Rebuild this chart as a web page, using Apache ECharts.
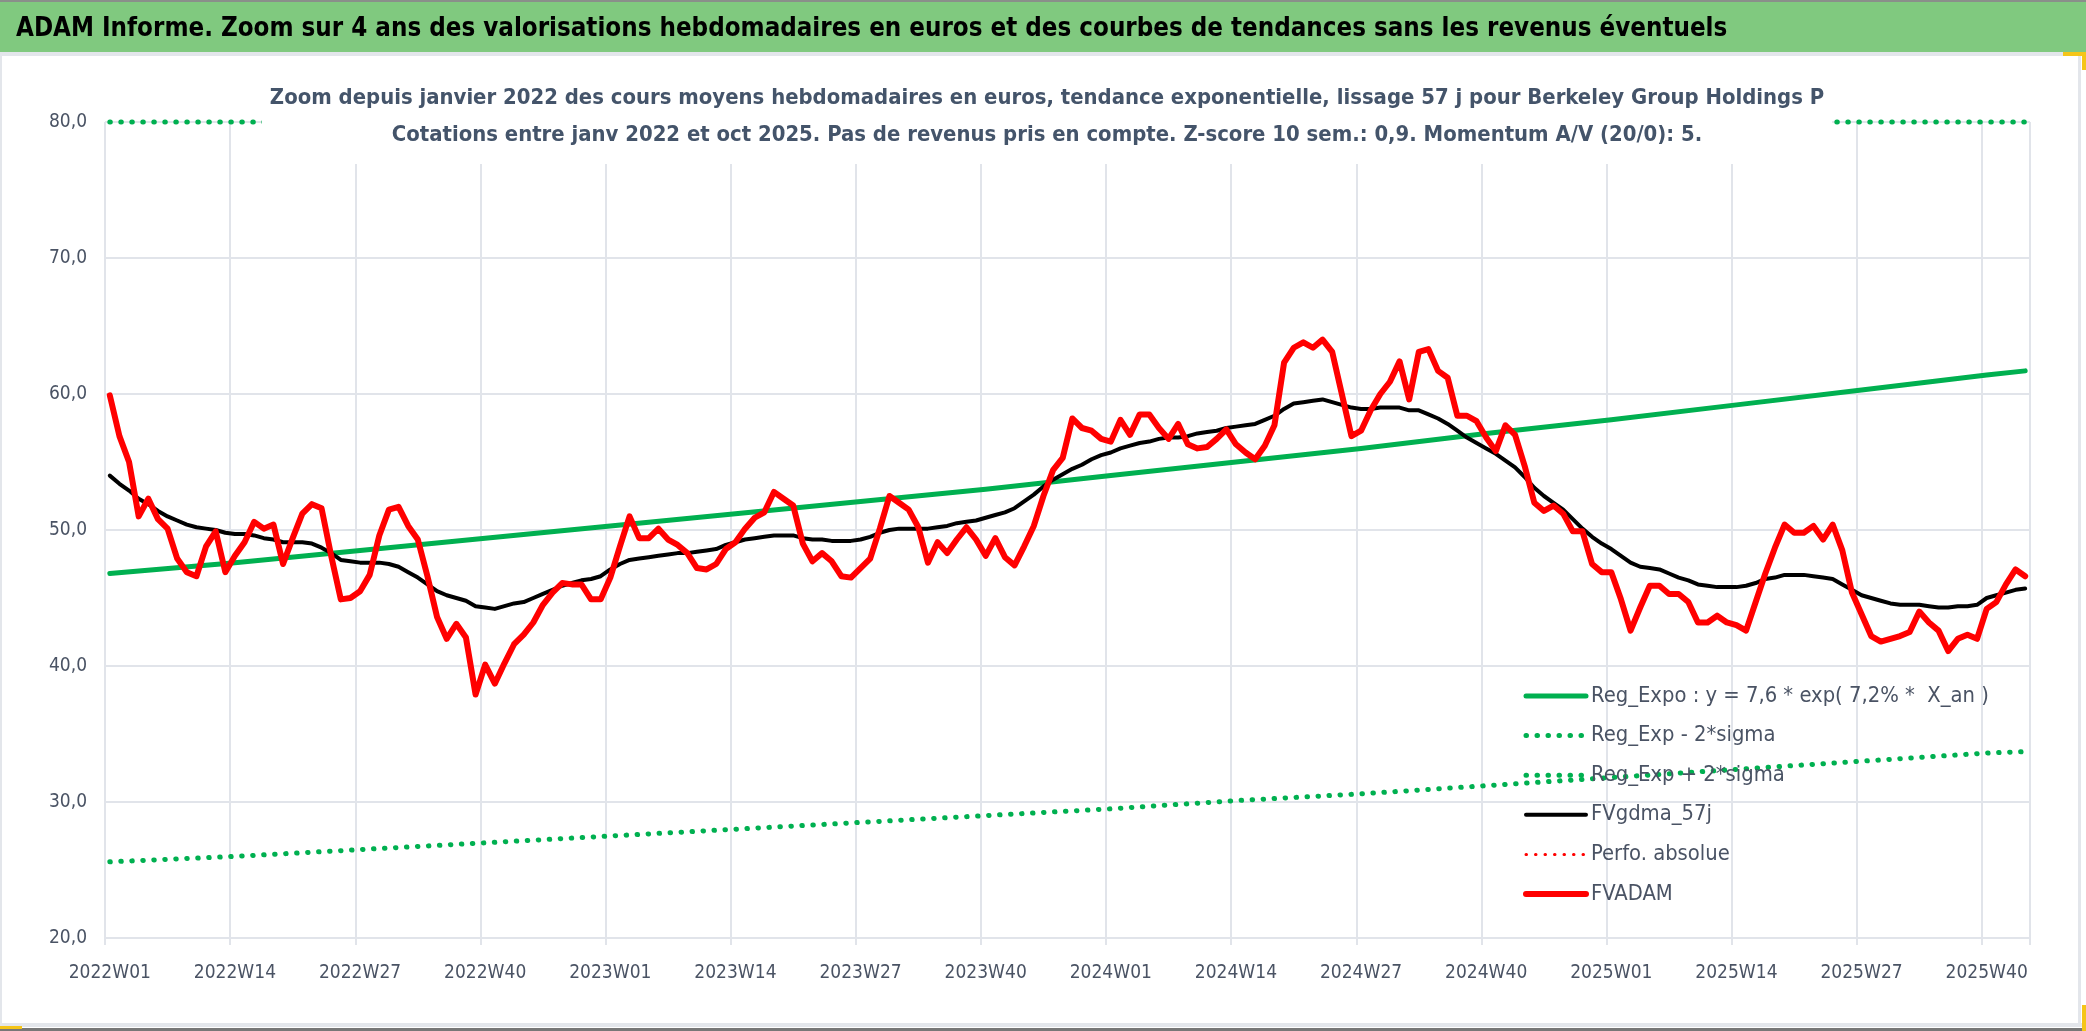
<!DOCTYPE html>
<html>
<head>
<meta charset="utf-8">
<title>ADAM Informe - Berkeley Group Holdings</title>
<script src="https://cdn.jsdelivr.net/npm/echarts@6/dist/echarts.min.js"></script>
<style>
  html, body { margin: 0; padding: 0; background: #fff; }
  #chart { width: 2086px; height: 1031px; }
</style>
</head>
<body>
<div id="chart"></div>
<script>
// semaines ISO affichées : 2022W01 .. 2025W44
const weekCounts = [[2022, 52], [2023, 52], [2024, 52], [2025, 44]]
const weeks = []
weekCounts.forEach(([year, n]) => {
  for (let w = 1; w <= n; w++) weeks.push(year + 'W' + String(w).padStart(2, '0'))
})

// cours moyens hebdomadaires (FVADAM)
const fvadam = [
  59.9, 56.9, 55.0, 51.0, 52.3, 50.8, 50.1, 47.9, 46.9, 46.6,
  48.8, 49.9, 46.9, 48.1, 49.1, 50.6, 50.1, 50.4, 47.5, 49.4,
  51.2, 51.9, 51.6, 48.1, 44.9, 45.0, 45.5, 46.7, 49.6, 51.5,
  51.7, 50.3, 49.3, 46.6, 43.6, 42.0, 43.1, 42.1, 37.9, 40.1,
  38.7, 40.2, 41.6, 42.3, 43.2, 44.5, 45.4, 46.1, 46.0, 46.0,
  44.9, 44.9, 46.5, 48.8, 51.0, 49.4, 49.4, 50.1, 49.3, 48.9,
  48.3, 47.2, 47.1, 47.5, 48.6, 49.1, 50.1, 50.9, 51.3, 52.8,
  52.3, 51.8, 49.0, 47.7, 48.3, 47.7, 46.6, 46.5, 47.2, 47.9,
  50.1, 52.5, 52.0, 51.5, 50.2, 47.6, 49.1, 48.3, 49.3, 50.2,
  49.3, 48.1, 49.4, 48.0, 47.4, 48.8, 50.3, 52.5, 54.4, 55.3,
  58.2, 57.5, 57.3, 56.7, 56.5, 58.1, 57.0, 58.5, 58.5, 57.5,
  56.7, 57.8, 56.3, 56.0, 56.1, 56.7, 57.4, 56.3, 55.7, 55.2,
  56.2, 57.7, 62.3, 63.4, 63.8, 63.4, 64.0, 63.1, 60.0, 56.9,
  57.3, 58.8, 60.0, 60.9, 62.4, 59.6, 63.1, 63.3, 61.7, 61.2,
  58.4, 58.4, 58.0, 56.8, 55.8, 57.7, 57.0, 54.7, 52.0, 51.4,
  51.8, 51.2, 49.9, 49.9, 47.5, 46.9, 46.9, 44.9, 42.6, 44.3,
  45.9, 45.9, 45.3, 45.3, 44.7, 43.2, 43.2, 43.7, 43.2, 43.0,
  42.6, 44.7, 46.8, 48.7, 50.4, 49.8, 49.8, 50.3, 49.3, 50.4,
  48.5, 45.4, 43.8, 42.2, 41.8, 42.0, 42.2, 42.5, 44.0, 43.2,
  42.6, 41.1, 42.0, 42.3, 42.0, 44.2, 44.7, 46.0, 47.1, 46.6
]

// moyenne mobile lissée 57 j (FVgdma_57j)
const fvgdma = [
  54.0, 53.4, 52.9, 52.3, 51.9, 51.4, 51.0, 50.7, 50.4, 50.2,
  50.1, 50.0, 49.8, 49.7, 49.7, 49.6, 49.4, 49.3, 49.1, 49.1,
  49.1, 49.0, 48.7, 48.3, 47.8, 47.7, 47.6, 47.6, 47.6, 47.5,
  47.3, 46.9, 46.5, 46.0, 45.5, 45.2, 45.0, 44.8, 44.4, 44.3,
  44.2, 44.4, 44.6, 44.7, 45.0, 45.3, 45.6, 45.9, 46.1, 46.3,
  46.4, 46.6, 47.1, 47.5, 47.8, 47.9, 48.0, 48.1, 48.2, 48.3,
  48.3, 48.4, 48.5, 48.6, 48.9, 49.1, 49.3, 49.4, 49.5, 49.6,
  49.6, 49.6, 49.4, 49.3, 49.3, 49.2, 49.2, 49.2, 49.3, 49.5,
  49.8, 50.0, 50.1, 50.1, 50.1, 50.1, 50.2, 50.3, 50.5, 50.6,
  50.7, 50.9, 51.1, 51.3, 51.6, 52.1, 52.6, 53.2, 53.7, 54.1,
  54.5, 54.8, 55.2, 55.5, 55.7, 56.0, 56.2, 56.4, 56.5, 56.7,
  56.8, 56.8, 56.9, 57.1, 57.2, 57.3, 57.5, 57.6, 57.7, 57.8,
  58.1, 58.4, 58.9, 59.3, 59.4, 59.5, 59.6, 59.4, 59.2, 59.0,
  58.9, 58.9, 59.0, 59.0, 59.0, 58.8, 58.8, 58.5, 58.2, 57.8,
  57.3, 56.8, 56.4, 56.0, 55.6, 55.1, 54.6, 53.9, 53.1, 52.5,
  52.0, 51.5, 50.8, 50.1, 49.5, 49.0, 48.6, 48.1, 47.6, 47.3,
  47.2, 47.1, 46.8, 46.5, 46.3, 46.0, 45.9, 45.8, 45.8, 45.8,
  45.9, 46.1, 46.4, 46.5, 46.7, 46.7, 46.7, 46.6, 46.5, 46.4,
  46.0, 45.6, 45.2, 45.0, 44.8, 44.6, 44.5, 44.5, 44.5, 44.4,
  44.3, 44.3, 44.4, 44.4, 44.5, 45.0, 45.2, 45.4, 45.6, 45.7
]

// régression exponentielle et bandes +/- 2 sigma, relevées aux graduations
const trendWeeks = ['2022W01', '2022W14', '2022W27', '2022W40', '2023W01', '2023W14', '2023W27', '2023W40',
  '2024W01', '2024W14', '2024W27', '2024W40', '2025W01', '2025W14', '2025W27', '2025W40', '2025W44']
const trendValues = [46.8, 47.6, 48.5, 49.4, 50.3, 51.2, 52.1, 53.0, 54.0, 55.0, 56.0, 57.1, 58.1, 59.2, 60.3, 61.4, 61.7]
const lowerValues = [25.6, 26.0, 26.5, 27.0, 27.5, 28.0, 28.5, 29.0, 29.5, 30.1, 30.6, 31.2, 31.8, 32.4, 33.0, 33.6, 33.7]
const upperWeeks = ['2022W01', '2025W44']
const upperValues = [80, 80]

const yTicks = { min: 20, max: 80, step: 10 }

// ---- polices : on cherche une police étroite proche de l'original
const ctx = document.createElement('canvas').getContext('2d')
function textWidth(text, weight, size, family) {
  ctx.font = weight + ' ' + size + 'px ' + family
  return ctx.measureText(text).width
}
function hasFont(name) {
  const probe = 'mmmmmmmmmmlli0123 WQ'
  return ['monospace', 'serif'].some(b =>
    textWidth(probe, 'normal', 60, b) !== textWidth(probe, 'normal', 60, "'" + name + "', " + b))
}
const fontName = ['Liberation Sans Narrow', 'DejaVu Sans Condensed', 'Noto Sans'].find(hasFont) || 'sans-serif'
const FONT = "'" + fontName + "', sans-serif"
function fitSize(text, weight, target) {
  return Math.round(1000 * target / textWidth(text, weight, 100, FONT)) / 10
}

const titleText = 'ADAM Informe. Zoom sur 4 ans des valorisations hebdomadaires en euros et des courbes de tendances sans les revenus éventuels'
const subLine1 = 'Zoom depuis janvier 2022 des cours moyens hebdomadaires en euros, tendance exponentielle, lissage 57 j pour Berkeley Group Holdings P'
const subLine2 = 'Cotations entre janv 2022 et oct 2025. Pas de revenus pris en compte. Z-score 10 sem.: 0,9. Momentum A/V (20/0): 5.'

const titleSize = fitSize(titleText, 'bold', 1713)
const subSize = fitSize(subLine1, 'bold', 1554)
const axisSize = fitSize('2022W01', 'normal', 82)
const legendSize = fitSize('Reg_Expo : y = 7,6 * exp( 7,2% *  X_an )', 'normal', 397)

const GREEN = '#00b050'
const RED = '#ff0000'
const GRID = '#e1e4ea'
const TEXT = '#4a5364'
const dots = [0.5, 10.5]

const names = {
  expo: 'Reg_Expo : y = 7,6 * exp( 7,2% *  X_an )',
  lower: 'Reg_Exp - 2*sigma',
  upper: 'Reg_Exp + 2*sigma',
  gdma: 'FVgdma_57j',
  perfo: 'Perfo. absolue',
  adam: 'FVADAM'
}

let myChart = echarts.init(document.getElementById('chart'), null, { renderer: 'canvas' })

let opt = {
  backgroundColor: '#fff',
  animation: false,
  // bandeau vert et cadre
  graphic: [
    { type: 'rect', z: 0, shape: { x: 0, y: 0, width: 2086, height: 2 }, style: { fill: '#8a8f8a' } },
    { type: 'rect', z: 0, shape: { x: 0, y: 2, width: 2086, height: 50 }, style: { fill: '#80c97f' } },
    { type: 'rect', z: 0, shape: { x: 0, y: 52, width: 2086, height: 4 }, style: { fill: '#e3e6eb' } },
    { type: 'rect', z: 0, shape: { x: 0, y: 56, width: 2, height: 968 }, style: { fill: '#e3e6eb' } },
    { type: 'rect', z: 0, shape: { x: 2078, y: 56, width: 3, height: 968 }, style: { fill: '#e3e6eb' } },
    { type: 'rect', z: 0, shape: { x: 0, y: 1023, width: 2086, height: 4 }, style: { fill: '#e3e6eb' } },
    { type: 'rect', z: 0, shape: { x: 0, y: 1028, width: 2086, height: 3 }, style: { fill: '#777' } },
    { type: 'rect', z: 0, shape: { x: 2063, y: 52, width: 23, height: 4 }, style: { fill: '#f5c518' } },
    { type: 'rect', z: 0, shape: { x: 2082, y: 52, width: 4, height: 18 }, style: { fill: '#f5c518' } },
    { type: 'rect', z: 0, shape: { x: 2082, y: 1005, width: 4, height: 26 }, style: { fill: '#f5c518' } },
    { type: 'rect', z: 0, shape: { x: 0, y: 1026, width: 22, height: 3 }, style: { fill: '#f5c518' } }
  ],
  title: [
    {
      text: titleText,
      left: 16,
      top: 3,
      padding: 0,
      textStyle: { fontFamily: FONT, fontWeight: 'bold', fontSize: titleSize, color: '#000', lineHeight: 52 }
    },
    {
      text: subLine1 + '\n' + subLine2,
      left: 1039,
      top: 70,
      textAlign: 'center',
      padding: [10, 8],
      backgroundColor: '#fff',
      textStyle: { fontFamily: FONT, fontWeight: 'bold', fontSize: subSize, color: '#44546a', lineHeight: 37 }
    }
  ],
  legend: {
    orient: 'vertical',
    left: 1518,
    top: 680,
    itemWidth: 60,
    itemHeight: 22,
    itemGap: 17.6,
    selectedMode: false,
    lineStyle: { width: 'inherit' },
    // pas de marqueur rond dans la légende, seulement le trait
    itemStyle: { color: 'rgba(0,0,0,0)', borderColor: 'rgba(0,0,0,0)', borderWidth: 0 },
    textStyle: { fontFamily: FONT, fontSize: legendSize, color: TEXT, lineHeight: 22 },
    data: [names.expo, names.lower, names.upper, names.gdma, names.perfo, names.adam]
  },
  grid: { left: 105, right: 56, top: 122, bottom: 93, containLabel: false },
  xAxis: {
    type: 'category',
    data: weeks,
    boundaryGap: true,
    axisLine: { show: true, lineStyle: { color: GRID, width: 2 } },
    axisTick: { show: true, interval: 12, length: 7, lineStyle: { color: GRID, width: 2 } },
    axisLabel: { interval: 12, margin: 26, fontFamily: FONT, fontSize: axisSize, color: TEXT },
    splitLine: { show: true, interval: 12, lineStyle: { color: GRID, width: 2 } }
  },
  yAxis: {
    type: 'value',
    min: yTicks.min,
    max: yTicks.max,
    interval: yTicks.step,
    axisLine: { show: false },
    axisTick: { show: false },
    axisLabel: {
      margin: 18,
      fontFamily: FONT,
      fontSize: axisSize,
      color: TEXT,
      formatter: v => v.toFixed(1).replace('.', ',')
    },
    splitLine: { lineStyle: { color: GRID, width: 2 } }
  },
  series: [
    {
      name: names.expo,
      type: 'line',
      symbol: 'none',
      data: trendWeeks.map((w, i) => [w, trendValues[i]]),
      lineStyle: { color: GREEN, width: 5, cap: 'round', join: 'round' },
      itemStyle: { color: GREEN }
    },
    {
      name: names.lower,
      type: 'line',
      symbol: 'none',
      data: trendWeeks.map((w, i) => [w, lowerValues[i]]),
      lineStyle: { color: GREEN, width: 5, type: dots, cap: 'round' },
      itemStyle: { color: GREEN }
    },
    {
      name: names.upper,
      type: 'line',
      symbol: 'none',
      clip: false,
      data: upperWeeks.map((w, i) => [w, upperValues[i]]),
      lineStyle: { color: GREEN, width: 5, type: dots, cap: 'round' },
      itemStyle: { color: GREEN }
    },
    {
      name: names.gdma,
      type: 'line',
      symbol: 'none',
      data: fvgdma,
      lineStyle: { color: '#000', width: 4, cap: 'round', join: 'round' },
      itemStyle: { color: '#000' }
    },
    {
      name: names.perfo,
      type: 'line',
      symbol: 'none',
      data: [],
      lineStyle: { color: RED, width: 3, type: [0.5, 9], cap: 'round' },
      itemStyle: { color: RED }
    },
    {
      name: names.adam,
      type: 'line',
      symbol: 'none',
      data: fvadam,
      lineStyle: { color: RED, width: 6, cap: 'round', join: 'round' },
      itemStyle: { color: RED }
    }
  ]
}

myChart.setOption(opt)
</script>
</body>
</html>
